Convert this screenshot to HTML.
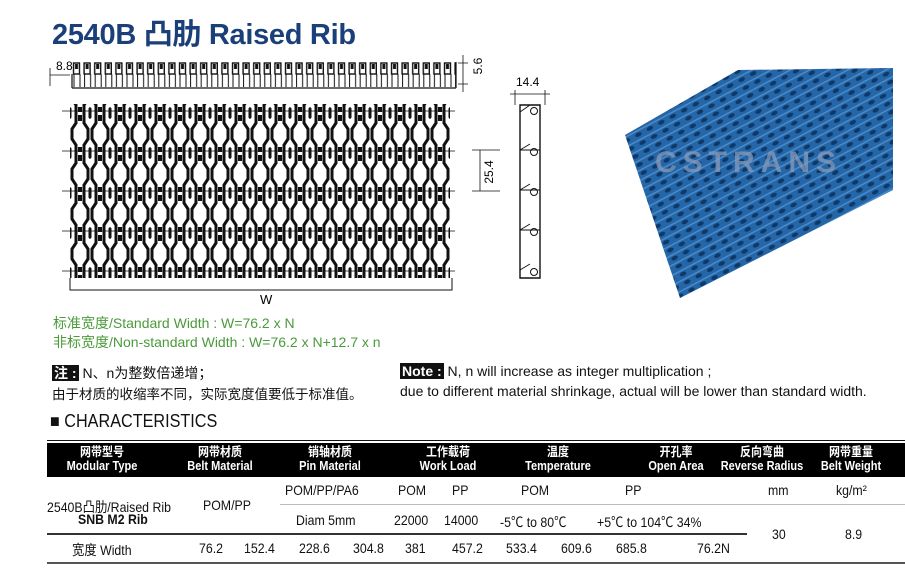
<!DOCTYPE html>
<html><head><meta charset="utf-8"><style>
body{margin:0;width:905px;height:580px;background:#fff;position:relative;overflow:hidden;font-family:"Liberation Sans","Noto Sans CJK SC",sans-serif;color:#111}
.a{position:absolute;white-space:nowrap}
.g{color:#4a9a3a;font-size:14px}
.n{font-size:14px}
.bk{background:#111;color:#fff;font-weight:bold;padding:0 2px}
.h{position:absolute;top:445px;color:#fff;text-align:center;font-size:12.5px;line-height:14px;font-weight:bold;transform:scaleX(.88)}
.c{position:absolute;font-size:14px;text-align:center;white-space:nowrap;transform:scaleX(.88);transform-origin:left}
</style></head><body>
<div class="a" style="left:52px;top:11px;font-size:29px;font-weight:bold;color:#1b3f78;letter-spacing:-0.3px">2540B 凸肋 Raised Rib</div>

<svg class="a" style="left:0;top:0" width="905" height="310">
<defs>
<pattern id="m" x="70" y="113" width="20" height="40" patternUnits="userSpaceOnUse">
<path d="M6,-4 V10 L2,16 V26 L6,32 V44 M14,-4 V10 L18,16 V26 L14,32 V44" stroke="#111" stroke-width="3" fill="none"/>
<path d="M-4,12 V30 M24,12 V30" stroke="#111" stroke-width="3"/>
<path d="M-4,32 L0,36 V44 M24,32 L20,36 V44 M0,-4 V4 L-4,8 M20,-4 V4 L24,8" stroke="#111" stroke-width="3" fill="none"/>
<rect x="8" y="2" width="4" height="6" fill="#111"/>
<rect x="8" y="34" width="4" height="5" fill="#111"/>
</pattern>
<pattern id="t" x="72" y="62" width="10.6" height="30" patternUnits="userSpaceOnUse">
<rect x="1.5" y="1" width="6" height="11" fill="none" stroke="#111" stroke-width="1.4"/>
<rect x="3" y="2" width="3" height="5" fill="#111"/>
<path d="M2,12 V25 M8,12 V25" stroke="#111" stroke-width="1"/>
</pattern>
<pattern id="b" x="0" y="0" width="13" height="9" patternUnits="userSpaceOnUse" patternTransform="rotate(-28)">
<rect width="13" height="9" fill="#2466a8"/>
<ellipse cx="6.5" cy="4.5" rx="3.5" ry="2" fill="#0f3866"/>
<rect x="0" y="0" width="13" height="1.5" fill="#4a8ac8"/>
</pattern>
</defs>
<rect x="72" y="62" width="384" height="26" fill="url(#t)"/>
<path d="M72,88 H456 M72,74 V88 M456,62 V88" stroke="#111" stroke-width="1.2"/>
<path d="M50,75 H70 M50,68 V86 M458,63 H468 M458,84 H468 M463,55 V92" stroke="#111" stroke-width="0.8"/>
<text x="56" y="70" font-size="12" font-family="Liberation Sans">8.8</text>
<text transform="translate(482,66) rotate(-90)" font-size="12" font-family="Liberation Sans" text-anchor="middle">5.6</text>
<rect x="70" y="104" width="380" height="174" fill="url(#m)"/>
<path d="M62,111 H455 M62,151 H455 M62,191 H455 M62,231 H455 M62,271 H455" stroke="#111" stroke-width="0.8"/>
<path d="M70,278 V290 H452 V278" stroke="#111" stroke-width="1" fill="none"/>
<text x="260" y="304" font-size="13" font-family="Liberation Sans">W</text>
<path d="M520,105 H540 V278 H520 Z" fill="none" stroke="#111" stroke-width="1.4"/>
<path d="M520,150 H540 M520,190 H540 M520,230 H540 M520,112 L530,105 M520,190 L530,184 M520,230 L530,224 M520,150 L530,144 M520,270 L530,264" stroke="#111" stroke-width="0.9"/>
<circle cx="534" cy="111" r="3.5" fill="none" stroke="#111"/><circle cx="534" cy="152" r="3.5" fill="none" stroke="#111"/><circle cx="534" cy="192" r="3.5" fill="none" stroke="#111"/><circle cx="534" cy="232" r="3.5" fill="none" stroke="#111"/><circle cx="534" cy="272" r="3.5" fill="none" stroke="#111"/>
<path d="M510,94 H550 M515,90 V105 M545,90 V105 M472,150 H500 M472,191 H500 M480,150 V191" stroke="#111" stroke-width="0.8"/>
<text x="516" y="86" font-size="12" font-family="Liberation Sans">14.4</text>
<text transform="translate(493,172) rotate(-90)" font-size="12" font-family="Liberation Sans" text-anchor="middle">25.4</text>
<polygon points="738,70 893,68 893,190 680,298 625,135" fill="url(#b)"/>
<text x="655" y="172" font-size="30" font-weight="bold" fill="#8a9ab8" opacity="0.75" font-family="Liberation Sans" letter-spacing="6">CSTRANS</text>
</svg>

<div class="a g" style="left:53px;top:313px">标准宽度/Standard Width : W=76.2 x N</div>
<div class="a g" style="left:53px;top:332px">非标宽度/Non-standard Width : W=76.2 x N+12.7 x n</div>
<div class="a n" style="left:52px;top:363px"><span class="bk">注 :</span> N、n为整数倍递增；</div>
<div class="a n" style="left:52px;top:383px;font-size:13.5px">由于材质的收缩率不同，实际宽度值要低于标准值。</div>
<div class="a n" style="left:400px;top:363px"><span class="bk">Note :</span> N, n will increase as integer multiplication ;</div>
<div class="a n" style="left:400px;top:383px">due to different material shrinkage, actual will be lower than standard width.</div>

<div class="a" style="left:50px;top:411px;font-size:18px;transform:scaleX(.9);transform-origin:left">■ CHARACTERISTICS</div>

<div class="a" style="left:47px;top:440px;width:858px;height:1px;background:#111"></div>
<div class="a" style="left:47px;top:443px;width:858px;height:34px;background:#000"></div>
<div class="h" style="left:57px;width:90px">网带型号<br>Modular Type</div>
<div class="h" style="left:175px;width:90px">网带材质<br>Belt Material</div>
<div class="h" style="left:285px;width:90px">销轴材质<br>Pin Material</div>
<div class="h" style="left:403px;width:90px">工作载荷<br>Work Load</div>
<div class="h" style="left:513px;width:90px">温度<br>Temperature</div>
<div class="h" style="left:636px;width:80px">开孔率<br>Open Area</div>
<div class="h" style="left:712px;width:100px">反向弯曲<br>Reverse Radius</div>
<div class="h" style="left:806px;width:90px">网带重量<br>Belt Weight</div>

<div class="c" style="left:285px;top:482px">POM/PP/PA6</div>
<div class="c" style="left:398px;top:482px">POM</div>
<div class="c" style="left:452px;top:482px">PP</div>
<div class="c" style="left:521px;top:482px">POM</div>
<div class="c" style="left:625px;top:482px">PP</div>
<div class="c" style="left:768px;top:482px">mm</div>
<div class="c" style="left:836px;top:482px">kg/m²</div>
<div class="c" style="left:47px;top:497px">2540B凸肋/Raised Rib</div>
<div class="c" style="left:78px;top:511px;font-weight:bold">SNB M2 Rib</div>
<div class="c" style="left:203px;top:497px">POM/PP</div>
<div class="a" style="left:280px;top:504px;width:625px;height:1px;background:#bbb"></div>
<div class="c" style="left:296px;top:512px">Diam 5mm</div>
<div class="c" style="left:394px;top:512px">22000</div>
<div class="c" style="left:444px;top:512px">14000</div>
<div class="c" style="left:500px;top:512px">-5℃ to 80℃</div>
<div class="c" style="left:597px;top:512px">+5℃ to 104℃ 34%</div>
<div class="c" style="left:772px;top:526px">30</div>
<div class="c" style="left:845px;top:526px">8.9</div>
<div class="a" style="left:47px;top:533px;width:700px;height:2px;background:#333"></div>
<div class="c" style="left:72px;top:540px">宽度 Width</div>
<div class="c" style="left:199px;top:540px">76.2</div>
<div class="c" style="left:244px;top:540px">152.4</div>
<div class="c" style="left:299px;top:540px">228.6</div>
<div class="c" style="left:353px;top:540px">304.8</div>
<div class="c" style="left:405px;top:540px">381</div>
<div class="c" style="left:452px;top:540px">457.2</div>
<div class="c" style="left:506px;top:540px">533.4</div>
<div class="c" style="left:561px;top:540px">609.6</div>
<div class="c" style="left:616px;top:540px">685.8</div>
<div class="c" style="left:697px;top:540px">76.2N</div>
<div class="a" style="left:47px;top:562px;width:858px;height:2px;background:#555"></div>
</body></html>
